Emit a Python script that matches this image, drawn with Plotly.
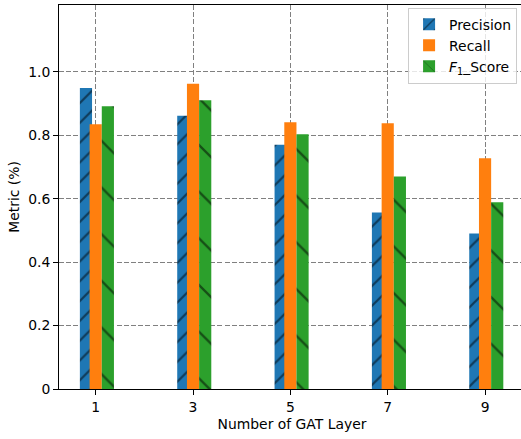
import plotly.graph_objects as go

layers = [1, 3, 5, 7, 9]
precision = [0.949, 0.862, 0.770, 0.557, 0.490]
recall = [0.835, 0.963, 0.841, 0.838, 0.728]
f1_score = [0.892, 0.911, 0.803, 0.670, 0.589]
series_names = ["Precision", "Recall", "<i>F</i><sub>1</sub>_Score"]
x_tick_labels = ["1", "3", "5", "7", "9"]
y_tick_vals = [0, 0.2, 0.4, 0.6, 0.8, 1.0]
y_tick_labels = ["0", "0.2", "0.4", "0.6", "0.8", "1.0"]

FONT = "DejaVu Sans"
W = 0.25

fig = go.Figure()
fig.add_trace(go.Bar(
    x=layers, y=precision, name=series_names[0], width=W, offset=-0.2 - W / 2,
    marker=dict(color="#1f77b4", line=dict(width=0),
                pattern=dict(shape="/", fgcolor="black", size=14, solidity=0.16)),
))
fig.add_trace(go.Bar(
    x=layers, y=recall, name=series_names[1], width=W, offset=-W / 2,
    marker=dict(color="#ff7f0e", line=dict(width=0)),
))
fig.add_trace(go.Bar(
    x=layers, y=f1_score, name=series_names[2], width=W, offset=0.25 - W / 2,
    marker=dict(color="#2ca02c", line=dict(width=0),
                pattern=dict(shape="\\", fgcolor="black", size=33, solidity=0.07)),
))

# The axes box runs a few pixels past the right edge of the 521 px window,
# as in the reference, so its right spine is not visible.
fig.update_layout(
    width=525, height=439,
    margin=dict(l=59, r=0, t=5, b=50),
    barmode="overlay",
    plot_bgcolor="white", paper_bgcolor="white",
    font=dict(family=FONT, size=13.9, color="black"),
    legend=dict(x=0.983, y=0.993, xanchor="right", yanchor="top",
                bgcolor="rgba(255,255,255,0.8)", bordercolor="#cccccc", borderwidth=1,
                font=dict(family=FONT, size=13.9)),
    showlegend=True,
)
fig.update_xaxes(
    range=[0.246, 0.246 + 466 / 48.67], tickvals=layers, ticktext=x_tick_labels,
    showline=True, linecolor="black", linewidth=1, mirror=True,
    ticks="outside", ticklen=5, tickcolor="black",
    showgrid=True, gridcolor="gray", gridwidth=1, griddash="5px,2.2px",
    zeroline=False, layer="above traces",
    title=dict(text="Number of GAT Layer", standoff=5, font=dict(family=FONT, size=13.9)),
)
fig.update_yaxes(
    range=[0, 1.211], tickvals=y_tick_vals, ticktext=y_tick_labels,
    showline=True, linecolor="black", linewidth=1, mirror=True,
    ticks="outside", ticklen=5, tickcolor="black",
    showgrid=True, gridcolor="gray", gridwidth=1, griddash="5px,2.2px",
    zeroline=False, layer="above traces",
    title=dict(text="Metric (%)", standoff=5, font=dict(family=FONT, size=13.9)),
)

fig.write_html("out.html",
               config={"displayModeBar": False},
               post_script="document.body.style.margin='0px';document.body.style.overflow='hidden';")
